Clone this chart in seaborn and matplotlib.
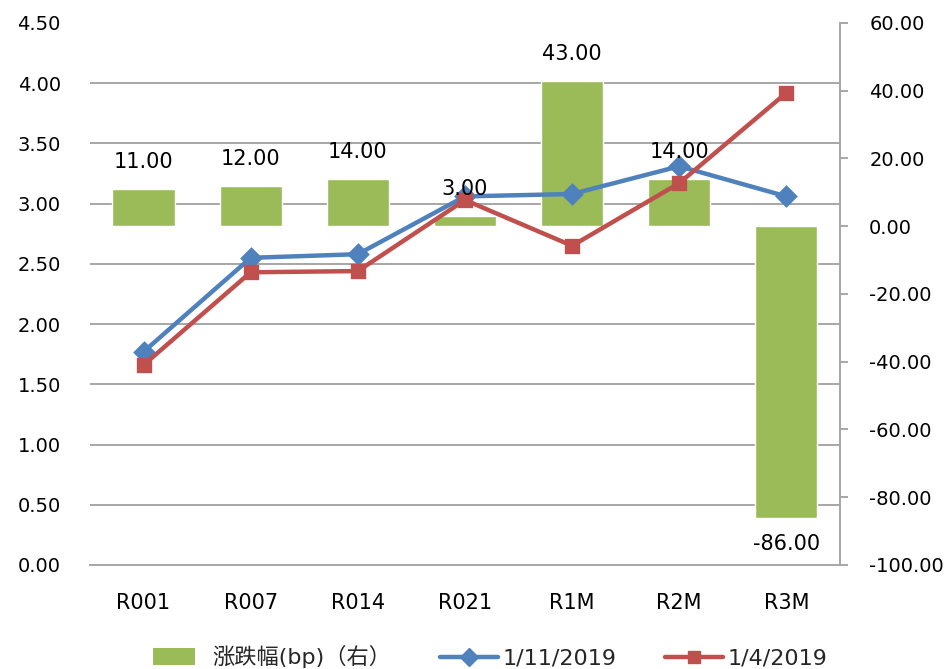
import matplotlib
matplotlib.use("Agg")
import numpy as np
import pandas as pd
import matplotlib.pyplot as plt
from matplotlib.patches import Patch, Rectangle
from matplotlib.lines import Line2D
from matplotlib.legend_handler import HandlerPatch
import seaborn as sns

categories = ["R001", "R007", "R014", "R021", "R1M", "R2M", "R3M"]
rate_0111 = [1.77, 2.55, 2.58, 3.06, 3.08, 3.31, 3.06]
rate_0104 = [1.66, 2.43, 2.44, 3.03, 2.65, 3.17, 3.92]
change_bp = [11.0, 12.0, 14.0, 3.0, 43.0, 14.0, -86.0]
series_names = ["1/11/2019", "1/4/2019"]
bar_label = "涨跌幅(bp)（右）"
left_ticks = [0.0, 0.5, 1.0, 1.5, 2.0, 2.5, 3.0, 3.5, 4.0, 4.5]
right_ticks = [-100, -80, -60, -40, -20, 0, 20, 40, 60]

GREEN = "#9BBB59"
BLUE = "#4F81BD"
RED = "#C0504D"
GRID = "#A6A6A6"

sns.set_theme(style="white")
plt.rcParams["font.family"] = ["DejaVu Sans", "Noto Sans CJK SC"]

df_bar = pd.DataFrame({"cat": categories, "chg": change_bp})
df_line = pd.DataFrame({
    "cat": categories * 2,
    "rate": rate_0111 + rate_0104,
    "series": [series_names[0]] * len(categories) + [series_names[1]] * len(categories),
})

fig = plt.figure(figsize=(9.49, 6.69), dpi=100)
ax_bar = fig.add_axes([0.0948, 0.1555, 0.7903, 0.8102])
ax_line = ax_bar.twinx()
ax_bar.yaxis.tick_right()
ax_bar.yaxis.set_label_position("right")
ax_line.yaxis.tick_left()
ax_line.yaxis.set_label_position("left")

# bars (right axis)
sns.barplot(data=df_bar, x="cat", y="chg", color=GREEN, saturation=1,
            width=0.58, ax=ax_bar, zorder=2)
ax_bar.set_ylim(right_ticks[0], right_ticks[-1])
ax_bar.set_yticks(right_ticks)
ax_bar.set_yticklabels([f"{t:.2f}" for t in right_ticks])
# gridlines that follow the left axis ticks, drawn below the bars
ax_bar.set_yticks(np.linspace(right_ticks[0], right_ticks[-1], len(left_ticks)), minor=True)
ax_bar.set_axisbelow(True)
ax_bar.grid(False)
ax_bar.yaxis.grid(True, which="minor", color=GRID, lw=1.4)
ax_bar.tick_params(axis="y", which="minor", length=0)
ax_bar.tick_params(axis="y", which="major", right=True, left=False, length=6,
                   width=1.4, color=GRID, labelsize=14, pad=15, labelcolor="black")
ax_bar.tick_params(axis="x", length=0, labelsize=15, pad=20, labelcolor="black")
for s in ["top", "left"]:
    ax_bar.spines[s].set_visible(False)
for s in ["right", "bottom"]:
    ax_bar.spines[s].set_color(GRID)
    ax_bar.spines[s].set_linewidth(1.4)
ax_bar.set_xlabel("")
ax_bar.set_ylabel("")

# lines (left axis)
sns.pointplot(data=df_line, x="cat", y="rate", hue="series", hue_order=series_names,
              palette=[BLUE, RED], markers=["D", "s"], linestyles=["-", "-"],
              ax=ax_line, legend=False, errorbar=None, linewidth=3.2, markersize=9)
ax_line.set_ylim(left_ticks[0], left_ticks[-1])
ax_line.set_yticks(left_ticks)
ax_line.set_yticklabels([f"{t:.2f}" for t in left_ticks])
ax_line.tick_params(axis="y", left=False, right=False, labelleft=True, labelright=False,
                    labelsize=14, pad=15, labelcolor="black")
for s in ax_line.spines.values():
    s.set_visible(False)
ax_line.set_xlabel("")
ax_line.set_ylabel("")
ax_bar.set_xlim(-0.5, len(categories) - 0.5)

# data labels on bars, drawn above the lines
for i, v in enumerate(change_bp):
    ax_line.annotate(f"{v:.2f}", xy=(i, v), xycoords=ax_bar.transData,
                     xytext=(0, 12 if v >= 0 else -12), textcoords="offset points",
                     ha="center", va="bottom" if v >= 0 else "top",
                     fontsize=15, color="black", zorder=10)


def short_rect(legend, orig_handle, xdescent, ydescent, width, height, fontsize):
    return Rectangle((-xdescent + width * 0.05, -ydescent - height * 0.05),
                     width * 0.72, height * 1.1)


handles = [
    Patch(facecolor=GREEN, edgecolor="none"),
    Line2D([], [], color=BLUE, lw=3.2, marker="D", markersize=9),
    Line2D([], [], color=RED, lw=3.2, marker="s", markersize=9),
]
fig.legend(handles, [bar_label] + series_names, loc="center",
           bbox_to_anchor=(0.515, 0.018), ncol=3, frameon=False, fontsize=16,
           handlelength=2.6, handleheight=0.7, columnspacing=2.2, handletextpad=0.2,
           handler_map={Patch: HandlerPatch(patch_func=short_rect)})

fig.savefig("out.png", dpi=100)
